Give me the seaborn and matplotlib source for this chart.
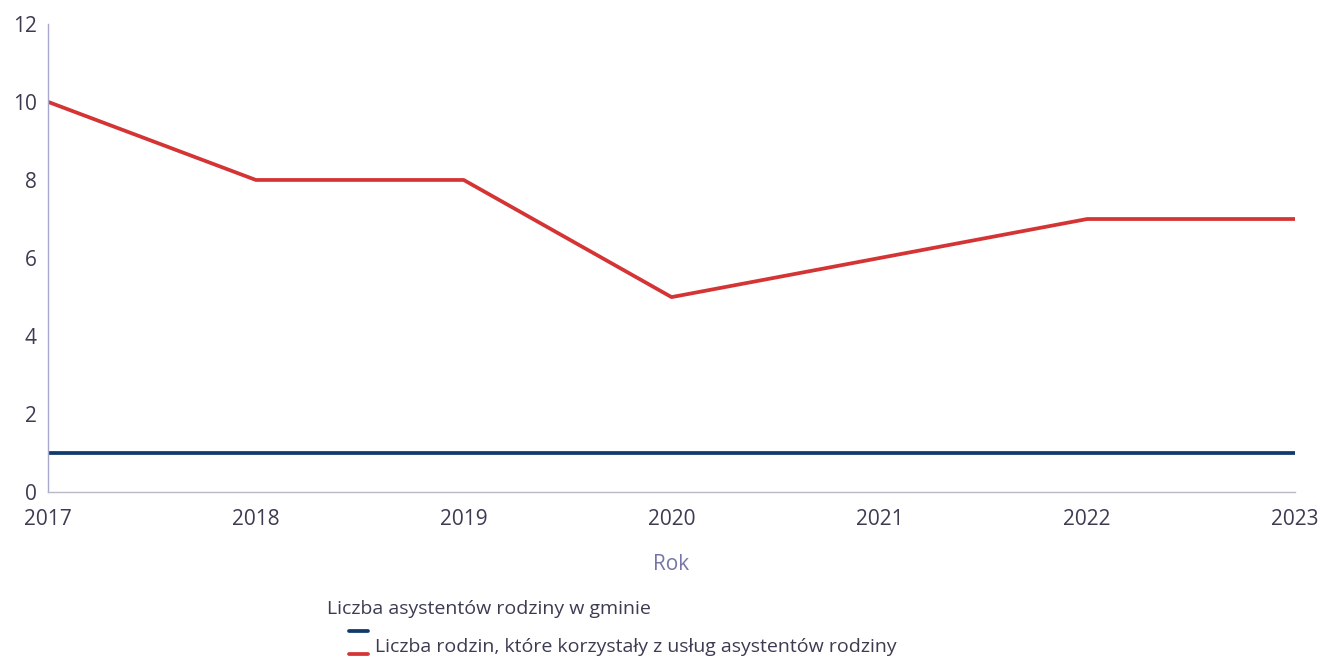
import pandas as pd
import matplotlib.pyplot as plt
from matplotlib.lines import Line2D
import seaborn as sns

# ====================== DATA ======================
years = [2017, 2018, 2019, 2020, 2021, 2022, 2023]
asystenci = [1, 1, 1, 1, 1, 1, 1]
rodziny = [10, 8, 8, 5, 6, 7, 7]

label_a = "Liczba asystentów rodziny w gminie"
label_r = "Liczba rodzin, które korzystały z usług asystentów rodziny"

df = pd.DataFrame({
    "Rok": years * 2,
    "Wartość": asystenci + rodziny,
    "Seria": [label_a] * len(years) + [label_r] * len(years),
})

NAVY = "#0f3a6b"
RED = "#d43434"
TXT = "#3b3b52"

# ====================== PLOT ======================
sns.set_style("white")
plt.rcParams["font.family"] = ["Open Sans", "DejaVu Sans"]

fig = plt.figure(figsize=(13.2, 6.6), dpi=100)
ax = fig.add_axes([0.0364, 0.254, 0.9447, 0.71])

sns.lineplot(data=df, x="Rok", y="Wartość", hue="Seria",
             palette={label_a: NAVY, label_r: RED},
             linewidth=2.7, legend=False, ax=ax)

ax.set_xlim(2017, 2023)
ax.set_ylim(0, 12)
ax.set_yticks(range(0, 13, 2))
ax.set_xticks(years)
ax.tick_params(axis="both", length=0, labelsize=15, colors=TXT)
ax.tick_params(axis="y", pad=8)
ax.tick_params(axis="x", pad=12)
ax.set_ylabel("")
ax.set_xlabel("Rok", fontsize=15, color="#7676a6", labelpad=17)

for side in ["top", "right"]:
    ax.spines[side].set_visible(False)
ax.spines["left"].set_color("#a8a8cc")
ax.spines["bottom"].set_color("#b8b8c8")
ax.spines["left"].set_linewidth(1)
ax.spines["bottom"].set_linewidth(1)

# legend drawn by hand to match the odd layout
fig.text(327 / 1320, 1 - 609 / 660, label_a, fontsize=14, color=TXT, va="center")
fig.text(375 / 1320, 1 - 647 / 660, label_r, fontsize=14, color=TXT, va="center")
fig.add_artist(Line2D([349 / 1320, 368 / 1320], [1 - 631 / 660] * 2, color=NAVY, linewidth=2.7))
fig.add_artist(Line2D([349 / 1320, 368 / 1320], [1 - 654 / 660] * 2, color=RED, linewidth=2.7))

plt.savefig("out.png", dpi=100)
